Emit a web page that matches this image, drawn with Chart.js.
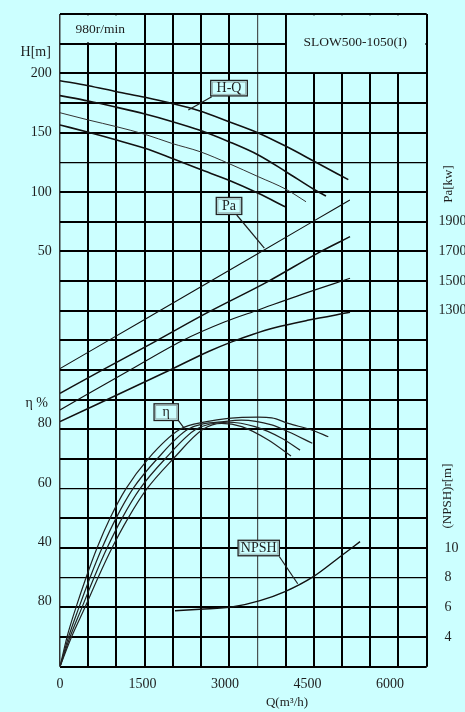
<!DOCTYPE html>
<html><head><meta charset="utf-8">
<script src="https://cdn.jsdelivr.net/npm/chart.js@4.4.1/dist/chart.umd.min.js"></script>
<style>
html,body{margin:0;padding:0;background:#ccffff;}
#wrap{width:465px;height:712px;position:relative;}
canvas{display:block;}
</style></head><body>
<div id="wrap"><canvas id="c" width="465" height="712"></canvas></div>
<script>
// ---------- tick labels ----------
const qTicks = [0, 1500, 3000, 4500, 6000];
const qTickLabels = ['0', '1500', '3000', '4500', '6000'];
const hTicks = [50, 100, 150, 200];
const etaTicks = [20, 40, 60, 80];
const etaTickLabels = ['80', '40', '60', '80'];
const paTicks = [1300, 1500, 1700, 1900];
const npshTicks = [4, 6, 8, 10];

// ---------- H-Q curves (Q m3/h, H m) ----------
const hqQ1 = [0, 515, 1031, 1545, 2031, 2545, 3060, 3605, 4109, 4636, 5242];
const hqH1 = [193.8, 189.6, 184.5, 179.8, 174.7, 168.3, 159.5, 149.8, 138.5, 125.5, 110.4];
const hqQ2 = [0, 515, 1031, 1545, 2031, 2545, 3060, 3605, 4109, 4636, 4836];
const hqH2 = [181.2, 176.7, 171.4, 165.7, 159.5, 152.0, 142.6, 131.2, 117.1, 101.7, 96.6];
const hqQ3 = [0, 515, 1031, 1545, 2031, 2545, 3060, 3605, 4109, 4473];
const hqH3 = [166.8, 160.7, 155.0, 148.6, 141.0, 134.0, 124.2, 112.9, 102.3, 91.8];
const hqQ4 = [0, 515, 1031, 1545, 2031, 2545, 3060, 3605, 4091];
const hqH4 = [156.5, 150.3, 143.8, 136.8, 128.4, 119.1, 110.1, 98.9, 87.6];

// ---------- shaft power curves (Q, Pa kW) ----------
const paQ1 = [0, 1500, 3000, 4500, 5270];
const paP1 = [910, 1232, 1556, 1880, 2046];
const paQ2 = [0, 758, 1727, 2696, 3787, 4696, 5273];
const paP2 = [743, 897, 1092, 1290, 1498, 1690, 1799];
const paQ3 = [0, 1273, 2213, 3000, 3605, 4400, 5273];
const paP3 = [631, 900, 1096, 1225, 1305, 1410, 1518];
const paQ4 = [0, 2000, 2700, 3122, 3500, 3900, 4500, 5273];
const paP4 = [552, 900, 1025, 1090, 1140, 1185, 1235, 1289];

// ---------- efficiency curves (Q, eta %) ----------
const etaQ1 = [0, 127, 291, 473, 673, 909, 1200, 1600, 2182, 2667, 3060, 3605, 3850, 4151, 4576, 4878];
const etaE1 = [0, 10, 20, 30, 40, 50, 60, 70, 80, 82.6, 83.7, 84.1, 83.9, 82.0, 79.8, 77.5];
const etaQ2 = [0, 155, 345, 545, 764, 1018, 1327, 1764, 2327, 3060, 3304, 3849, 4151, 4587];
const etaE2 = [0, 10, 20, 30, 40, 50, 60, 70, 80, 82.8, 83.1, 81.5, 79.2, 75.3];
const etaQ3 = [0, 182, 400, 618, 855, 1127, 1455, 1909, 2473, 3060, 3545, 4031, 4364];
const etaE3 = [0, 10, 20, 30, 40, 50, 60, 70, 80, 82.4, 80.9, 77.0, 73.0];
const etaQ4 = [0, 209, 455, 691, 945, 1236, 1582, 2055, 2600, 2940, 3304, 3787, 4200];
const etaE4 = [0, 10, 20, 30, 40, 50, 60, 70, 80, 82.0, 80.9, 76.4, 71.0];

// ---------- NPSHr curve (Q, m) ----------
const npshQ = [2091, 2545, 3151, 3636, 4091, 4606, 5091, 5455];
const npshV = [5.77, 5.87, 6.04, 6.45, 7.06, 8.07, 9.41, 10.43];

// ---------- styling ----------
const BG = '#ccffff';
const SERIF = "'Liberation Serif','Times New Roman',Times,serif";
const INK = '#1e1e1e';
const GRID_COLS = 13, GRID_ROWS = 22;

function pts(qs, vs) { return qs.map((q, i) => ({x: q, y: vs[i]})); }
function line(qs, vs, axis, w, col) {
  return {data: pts(qs, vs), xAxisID: 'x', yAxisID: axis, borderColor: col || '#111',
          borderWidth: w, pointRadius: 0, fill: false, cubicInterpolationMode: 'monotone'};
}
function fixSize(prop, val) {
  return s => {
    s[prop] = val; s.paddingTop = 0; s.paddingBottom = 0; s.paddingLeft = 0; s.paddingRight = 0;
    if (val === 0) s._computeLabelArea = () => null;   // do not clip labels of zero-width label axes
  };
}

const headerBoxes = [
  {text: '980r/min', c0: 0, c1: 3, r0: 21, r1: 22, dx: -2, dy: 1},
  {text: 'SLOW500-1050(I)', c0: 8, c1: 13, r0: 20, r1: 22, dx: -1, dy: -1.4}
];
const tags = [
  {text: 'H-Q', axis: 'yH', q: 3073, v: 187.5, w: 36.6, h: 15.5, a: [2758, 180.3], b: [2333, 169.1]},
  {text: 'Pa', axis: 'yPa', q: 3073, v: 2006, w: 25.5, h: 17, a: [3213, 1945], b: [3715, 1721]},
  {text: 'η', axis: 'yEta', q: 1931, v: 85.8, w: 24.3, h: 16.7, a: [2151, 83.0], b: [2273, 80.0]},
  {text: 'NPSH', axis: 'yN', q: 3613, v: 10.0, w: 41.3, h: 15.5, a: [3987, 9.43], b: [4322, 7.59]}
];

const decor = {
  id: 'decor',
  beforeDatasetsDraw(chart) {
    const {ctx, scales: {gx, gy}} = chart;
    ctx.save();
    headerBoxes.forEach(b => {
      const x0 = gx.getPixelForValue(b.c0), x1 = gx.getPixelForValue(b.c1);
      const y0 = gy.getPixelForValue(b.r1), y1 = gy.getPixelForValue(b.r0);
      ctx.fillStyle = BG;
      ctx.fillRect(x0 + 1.3, y0 + 1.3, x1 - x0 - 2.6, y1 - y0 - 2.6);
      ctx.fillStyle = INK;
      ctx.font = '13.5px ' + SERIF;
      ctx.textAlign = 'center'; ctx.textBaseline = 'middle';
      ctx.fillText(b.text, (x0 + x1) / 2 + b.dx, (y0 + y1) / 2 + b.dy);
    });
    ctx.restore();
  },
  afterDatasetsDraw(chart) {
    const {ctx, scales} = chart;
    const xs = scales.x;
    ctx.save();
    tags.forEach(t => {
      const ys = scales[t.axis];
      ctx.strokeStyle = INK; ctx.lineWidth = 1.2;
      ctx.beginPath();
      ctx.moveTo(xs.getPixelForValue(t.a[0]), ys.getPixelForValue(t.a[1]));
      ctx.lineTo(xs.getPixelForValue(t.b[0]), ys.getPixelForValue(t.b[1]));
      ctx.stroke();
      const cx = xs.getPixelForValue(t.q), cy = ys.getPixelForValue(t.v);
      const x0 = cx - t.w / 2, y0 = cy - t.h / 2;
      ctx.fillStyle = BG; ctx.fillRect(x0, y0, t.w, t.h);
      ctx.strokeStyle = '#222'; ctx.lineWidth = 1.3; ctx.strokeRect(x0, y0, t.w, t.h);
      ctx.strokeStyle = '#8fa5a5'; ctx.lineWidth = 0.9; ctx.strokeRect(x0 + 1.6, y0 + 1.6, t.w - 3.2, t.h - 3.2);
      ctx.fillStyle = INK; ctx.font = '14px ' + SERIF;
      ctx.textAlign = 'center'; ctx.textBaseline = 'middle';
      ctx.fillText(t.text, cx, cy + 0.5);
    });
    ctx.restore();
  },
  afterDraw(chart) {
    const {ctx, chartArea: ca} = chart;
    ctx.save();
    ctx.fillStyle = INK;
    ctx.textAlign = 'center'; ctx.textBaseline = 'middle';
    ctx.font = '14px ' + SERIF;
    ctx.fillText('H[m]', ca.left - 24.3, ca.top + 38.3);
    ctx.fillText('η %', ca.left - 23.3, chart.scales.yEta.getPixelForValue(88.8));
    ctx.font = '13px ' + SERIF;
    ctx.fillText('Q(m³/h)', 287, ca.bottom + 36);
    const rot = (txt, x, y) => {
      ctx.save(); ctx.translate(x, y); ctx.rotate(-Math.PI / 2);
      ctx.fillText(txt, 0, 0); ctx.restore();
    };
    rot('Pa[kw]', ca.right + 21.6, 184);
    rot('(NPSH)r[m]', ca.right + 21.3, 496);
    ctx.restore();
  }
};

const tickFont = {family: SERIF, size: 14};
const gridCol = c => (c.tick && c.tick.value === 7) ? '#4a5252' : (c.tick && c.tick.value === 0 ? '#333' : '#000');
const gridColW = c => (c.tick && c.tick.value === 7) ? 1.2 : (c.tick && c.tick.value === 0 ? 1.5 : 2);
const thinRows = [3, 6, 17];
const gridRowW = c => (c.tick && thinRows.includes(c.tick.value)) ? 1.3 : 2;
const noGrid = {display: false, drawTicks: false};

new Chart(document.getElementById('c'), {
  type: 'line',
  data: {
    datasets: [
      line(hqQ1, hqH1, 'yH', 1.6), line(hqQ2, hqH2, 'yH', 1.6),
      line(hqQ3, hqH3, 'yH', 1.0, '#333'), line(hqQ4, hqH4, 'yH', 1.6),
      line(paQ1, paP1, 'yPa', 1.1), line(paQ2, paP2, 'yPa', 1.5),
      line(paQ3, paP3, 'yPa', 1.1), line(paQ4, paP4, 'yPa', 1.5),
      line(etaQ1, etaE1, 'yEta', 1.2, '#222'), line(etaQ2, etaE2, 'yEta', 1.2, '#222'),
      line(etaQ3, etaE3, 'yEta', 1.2, '#222'), line(etaQ4, etaE4, 'yEta', 1.2, '#222'),
      line(npshQ, npshV, 'yN', 1.4)
    ]
  },
  options: {
    responsive: false, animation: false, devicePixelRatio: 1, events: [],
    layout: {padding: {top: 14, left: 0, right: 0, bottom: 0}},
    plugins: {legend: {display: false}, tooltip: {enabled: false}},
    scales: {
      x: {type: 'linear', axis: 'x', position: 'bottom', min: 0, max: 6667,
          grid: noGrid, border: {display: false},
          afterBuildTicks: s => { s.ticks = qTicks.map(v => ({value: v})); },
          ticks: {font: tickFont, color: INK, padding: 9, maxRotation: 0, autoSkip: false,
                  callback: (v, i) => qTickLabels[i]},
          afterFit: fixSize('height', 45.3)},
      gx: {type: 'linear', axis: 'x', position: 'top', min: 0, max: GRID_COLS,
           afterBuildTicks: s => { s.ticks = Array.from({length: GRID_COLS + 1}, (_, i) => ({value: i})); },
           grid: {drawTicks: false, color: gridCol, lineWidth: gridColW}, border: {display: false},
           ticks: {display: false}, afterFit: fixSize('height', 0)},
      yH: {type: 'linear', axis: 'y', position: 'left', weight: 10, min: -300, max: 250,
           grid: noGrid, border: {display: false},
           afterBuildTicks: s => { s.ticks = hTicks.map(v => ({value: v})); },
           ticks: {font: tickFont, color: INK, padding: 8.3, autoSkip: false, callback: v => String(v)},
           afterFit: fixSize('width', 60)},
      gy: {type: 'linear', axis: 'y', position: 'left', weight: 0, min: 0, max: GRID_ROWS,
           afterBuildTicks: s => { s.ticks = Array.from({length: GRID_ROWS + 1}, (_, i) => ({value: i})); },
           grid: {drawTicks: false, color: '#000', lineWidth: gridRowW}, border: {display: false},
           ticks: {display: false}, afterFit: fixSize('width', 0)},
      yEtaL: {type: 'linear', axis: 'y', position: 'left', weight: 1, min: -1.92, max: 218.08,
              grid: noGrid, border: {display: false},
              afterBuildTicks: s => { s.ticks = etaTicks.map(v => ({value: v})); },
              ticks: {font: tickFont, color: INK, padding: 8.3, autoSkip: false,
                      callback: (v, i) => etaTickLabels[i]},
              afterFit: fixSize('width', 0)},
      yEta: {type: 'linear', axis: 'y', display: false, min: 0, max: 220},
      yPa: {type: 'linear', axis: 'y', position: 'right', weight: 10, min: -1100, max: 3300,
            grid: noGrid, border: {display: false},
            afterBuildTicks: s => { s.ticks = paTicks.map(v => ({value: v})); },
            ticks: {font: tickFont, color: INK, padding: 11.8, autoSkip: false, callback: v => String(v)},
            afterFit: fixSize('width', 38.3)},
      yN: {type: 'linear', axis: 'y', position: 'right', weight: 0, min: 2, max: 46,
           grid: noGrid, border: {display: false},
           afterBuildTicks: s => { s.ticks = npshTicks.map(v => ({value: v})); },
           ticks: {font: tickFont, color: INK, padding: 17.8, autoSkip: false, callback: v => String(v)},
           afterFit: fixSize('width', 0)}
    }
  },
  plugins: [decor]
});
</script>
</body></html>
